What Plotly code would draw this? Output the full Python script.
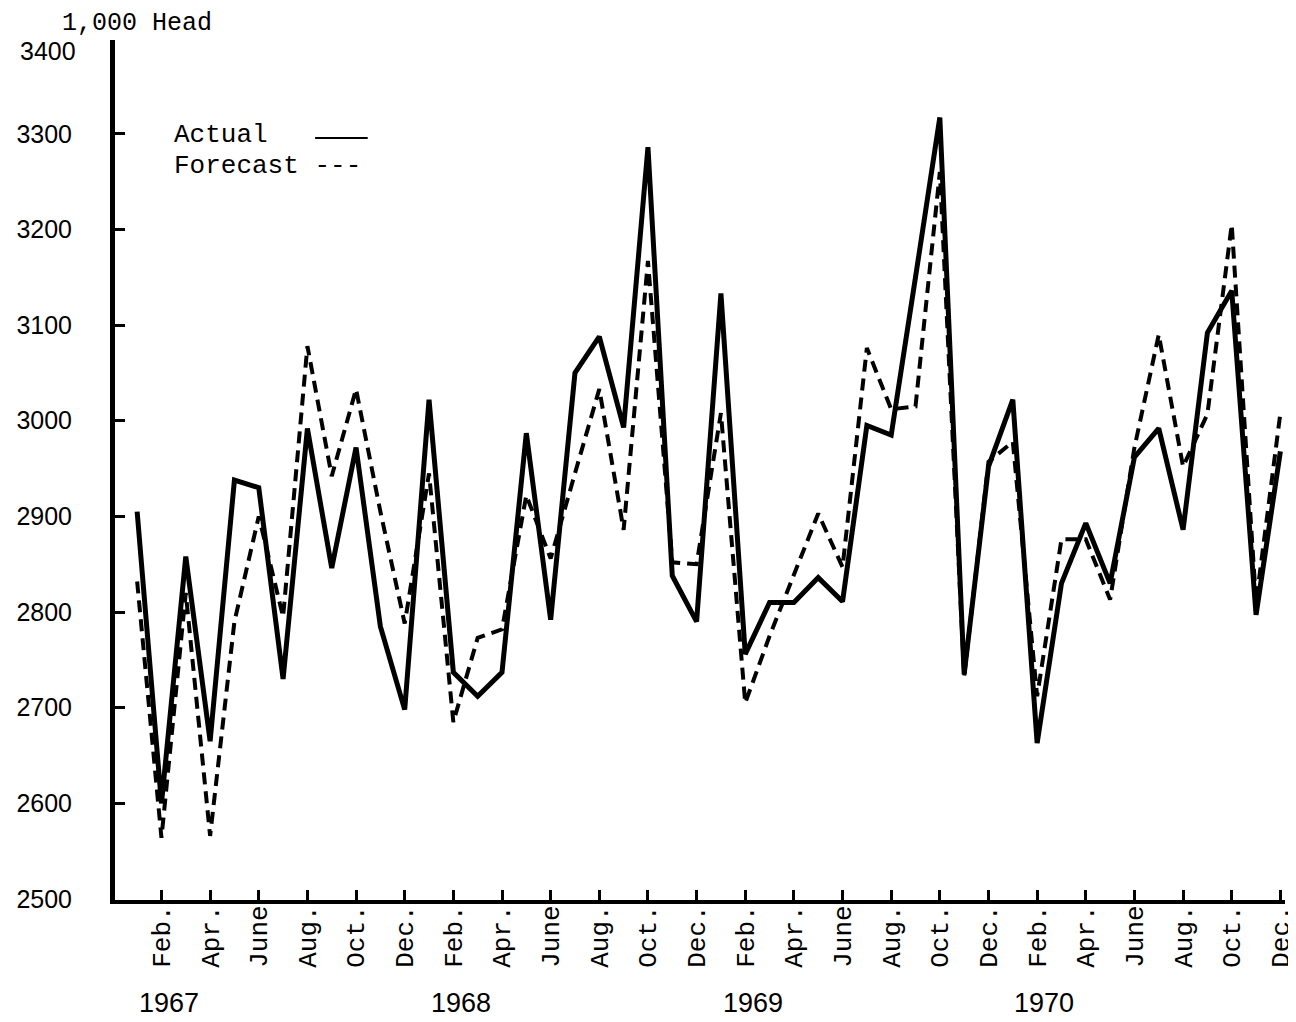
import plotly.graph_objects as go

# Monthly data, Jan 1967 .. Dec 1970 (1,000 head)
years = [1967, 1968, 1969, 1970]
actual = [
    2905, 2600, 2858, 2665, 2938, 2930, 2730, 2992, 2846, 2972, 2785, 2698,   # 1967
    3022, 2737, 2712, 2737, 2987, 2792, 3050, 3088, 2993, 3286, 2838, 2790,   # 1968
    3133, 2756, 2810, 2810, 2836, 2811, 2995, 2985, 3150, 3317, 2735, 2952,   # 1969
    3022, 2663, 2830, 2893, 2830, 2962, 2992, 2886, 3092, 3136, 2797, 2968,   # 1970
]
forecast = [
    2832, 2564, 2820, 2566, 2790, 2900, 2795, 3078, 2942, 3033, 2905, 2788,   # 1967
    2945, 2685, 2773, 2782, 2922, 2856, 2945, 3033, 2886, 3167, 2852, 2850,   # 1968
    3008, 2705, 2775, 2840, 2903, 2847, 3076, 3012, 3015, 3260, 2733, 2957,   # 1969
    2978, 2712, 2876, 2876, 2813, 2972, 3090, 2952, 3007, 3205, 2810, 3008,   # 1970
]
tick_months = ["Feb.", "Apr.", "June", "Aug.", "Oct.", "Dec."]
tick_month_index = [1, 3, 5, 7, 9, 11]
y_ticks = [2500, 2600, 2700, 2800, 2900, 3000, 3100, 3200, 3300, 3400]

Y_RANGE = [2499, 3398]
x_idx = list(range(len(actual)))
tickvals = [12 * k + m for k in range(len(years)) for m in tick_month_index]
ticktext = [lab for _ in years for lab in tick_months]
axis_yticks = [v for v in y_ticks if v <= Y_RANGE[1]]
top_yticks = [v for v in y_ticks if v > Y_RANGE[1]]   # drawn as text at the axis top

MONO = "Liberation Mono"
SANS = "Liberation Sans"

fig = go.Figure()
fig.add_trace(go.Scatter(
    x=x_idx, y=actual, mode="lines", name="Actual",
    line=dict(color="black", width=5), showlegend=False,
))
fig.add_trace(go.Scatter(
    x=x_idx, y=forecast, mode="lines", name="Forecast",
    line=dict(color="black", width=4, dash="12px,7px"), showlegend=False,
))

# page body adds an 8px margin, so the figure is sized/offset to compensate
fig.update_layout(
    width=1288, height=1014,
    margin=dict(l=107, r=11, t=32, b=122),
    paper_bgcolor="white", plot_bgcolor="white",
    xaxis=dict(
        range=[-0.91, 47.19], automargin=False,
        tickmode="array", tickvals=tickvals, ticktext=ticktext,
        tickangle=-90, ticklabeloverflow="allow",
        ticks="inside", ticklen=10, tickwidth=3, tickcolor="black",
        showline=True, linecolor="black", linewidth=4,
        showgrid=False, zeroline=False,
        ticklabelstandoff=-9,
        tickfont=dict(family=MONO, size=26, color="black"),
    ),
    yaxis=dict(
        range=Y_RANGE, automargin=False,
        tickmode="array", tickvals=axis_yticks, ticklabeloverflow="allow",
        ticks="inside", ticklen=10, tickwidth=3, tickcolor="black",
        showline=True, linecolor="black", linewidth=5,
        showgrid=False, zeroline=False,
        ticklabelstandoff=33,
        tickfont=dict(family=SANS, size=25, color="black"),
    ),
)

annotations = [
    dict(text="1,000 Head", xref="paper", yref="paper", x=-0.047, y=1.0,
         xanchor="left", yanchor="middle", yshift=17, showarrow=False,
         font=dict(family=MONO, size=25, color="black")),
    dict(text="Actual", xref="paper", yref="paper", x=0.0487, y=0.890,
         xanchor="left", yanchor="middle", showarrow=False,
         font=dict(family=MONO, size=26, color="black")),
    dict(text="Forecast ---", xref="paper", yref="paper", x=0.0487, y=0.854,
         xanchor="left", yanchor="middle", showarrow=False,
         font=dict(family=MONO, size=26, color="black")),
]
for v in top_yticks:
    annotations.append(dict(
        text=str(v), xref="paper", yref="paper", x=0, y=1.0,
        xanchor="right", yanchor="middle", xshift=-37, yshift=-11,
        showarrow=False, font=dict(family=SANS, size=25, color="black")))
for k, yr in enumerate(years):
    annotations.append(dict(
        text=str(yr), xref="x", yref="paper", x=12 * k + 1.3, y=0,
        xanchor="center", yanchor="middle", yshift=-103, showarrow=False,
        font=dict(family=SANS, size=27, color="black")))
fig.update_layout(annotations=annotations)

# legend sample line for "Actual"
fig.add_shape(type="line", xref="paper", yref="paper",
              x0=0.171, x1=0.216, y0=0.886, y1=0.886,
              line=dict(color="black", width=2))

fig.write_html("out.html")
